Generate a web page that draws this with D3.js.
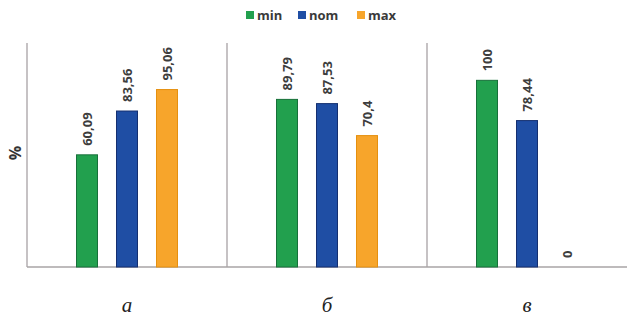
<!DOCTYPE html>
<html>
<head>
<meta charset="utf-8">
<script src="https://cdn.jsdelivr.net/npm/d3@7"></script>
<style>
  body { margin: 0; background: #fff; }
</style>
</head>
<body>
<div id="chart"></div>
<script>
// data
var categories = ["а", "б", "в"];
var series = ["min", "nom", "max"];
var minValues = [60.09, 89.79, 100];
var nomValues = [83.56, 87.53, 78.44];
var maxValues = [95.06, 70.4, 0];
var valueLabels = [["60,09", "83,56", "95,06"], ["89,79", "87,53", "70,4"], ["100", "78,44", "0"]];

var colors = {min: "#22a04e", nom: "#1f4ea4", max: "#f7a52b"};
var strokes = {min: "#17703a", nom: "#142f70", max: "#e5900f"};

var width = 627, height = 320;
var margin = {top: 43, left: 27, right: 0, bottom: 53};

var svg = d3.select("#chart")
  .append("svg")
    .attr("width", width)
    .attr("height", height)
    .style("font-family", "'Open Sans', sans-serif");

var x0 = d3.scaleBand()
  .domain(categories)
  .range([margin.left, width - margin.right]);

var x1 = d3.scalePoint()
  .domain(series)
  .range([60, 140]);

var y = d3.scaleLinear()
  .domain([0, 120])
  .range([height - margin.bottom, margin.top]);

var barW = 21;

// panel lines
svg.selectAll("line.sep")
  .data(categories)
  .enter().append("line")
    .attr("class", "sep")
    .attr("x1", function(d) { return x0(d); })
    .attr("x2", function(d) { return x0(d); })
    .attr("y1", y(120))
    .attr("y2", y(0))
    .attr("stroke", "#b3aeb0")
    .attr("stroke-width", 1.5);

// baseline
svg.append("line")
  .attr("x1", margin.left)
  .attr("x2", width)
  .attr("y1", y(0))
  .attr("y2", y(0))
  .attr("stroke", "#a8a4a6")
  .attr("stroke-width", 1.5);

var rows = categories.map(function(c, i) {
  return series.map(function(s, j) {
    var v = [minValues, nomValues, maxValues][j][i];
    return {cat: c, ser: s, value: v, label: valueLabels[i][j]};
  });
});

var groups = svg.selectAll("g.cat")
  .data(rows)
  .enter().append("g")
    .attr("class", "cat")
    .attr("transform", function(d, i) { return "translate(" + x0(categories[i]) + ",0)"; });

groups.selectAll("rect")
  .data(function(d) { return d.filter(function(e) { return e.value > 0; }); })
  .enter().append("rect")
    .attr("x", function(d) { return x1(d.ser) - barW / 2; })
    .attr("y", function(d) { return y(d.value); })
    .attr("width", barW)
    .attr("height", function(d) { return y(0) - y(d.value); })
    .attr("fill", function(d) { return colors[d.ser]; })
    .attr("stroke", function(d) { return strokes[d.ser]; })
    .attr("stroke-width", 1);

groups.selectAll("text")
  .data(function(d) { return d; })
  .enter().append("text")
    .attr("transform", function(d) {
      return "translate(" + x1(d.ser) + "," + (y(d.value) - 9) + ") rotate(-90)";
    })
    .attr("dominant-baseline", "central")
    .attr("text-anchor", "start")
    .attr("font-size", 13)
    .attr("font-weight", 700)
    .attr("fill", "#3d3d3d")
    .text(function(d) { return d.label; });

// category labels
svg.selectAll("text.cat")
  .data(categories)
  .enter().append("text")
    .attr("class", "cat")
    .attr("x", function(d) { return x0(d) + x0.bandwidth() / 2; })
    .attr("y", 312)
    .attr("text-anchor", "middle")
    .attr("font-family", "'Liberation Serif', serif")
    .attr("font-style", "italic")
    .attr("font-size", 21)
    .attr("fill", "#222")
    .text(function(d) { return d; });

// y title
svg.append("text")
  .attr("transform", "translate(15,153) rotate(-90)")
  .attr("text-anchor", "middle")
  .attr("dominant-baseline", "central")
  .attr("font-size", 16)
  .attr("font-weight", 700)
  .attr("fill", "#333")
  .text("%");

// legend
var legendX = [246, 298, 357];
var legend = svg.selectAll("g.leg")
  .data(series)
  .enter().append("g")
    .attr("class", "leg")
    .attr("transform", function(d, i) { return "translate(" + legendX[i] + ",15)"; });

legend.append("rect")
  .attr("x", 0)
  .attr("y", -4)
  .attr("width", 8)
  .attr("height", 8)
  .attr("fill", function(d) { return colors[d]; });

legend.append("text")
  .attr("x", 11)
  .attr("y", 0)
  .attr("dominant-baseline", "central")
  .attr("font-size", 13)
  .attr("font-weight", 700)
  .attr("fill", "#3a3a3a")
  .text(function(d) { return d; });
</script>
</body>
</html>
